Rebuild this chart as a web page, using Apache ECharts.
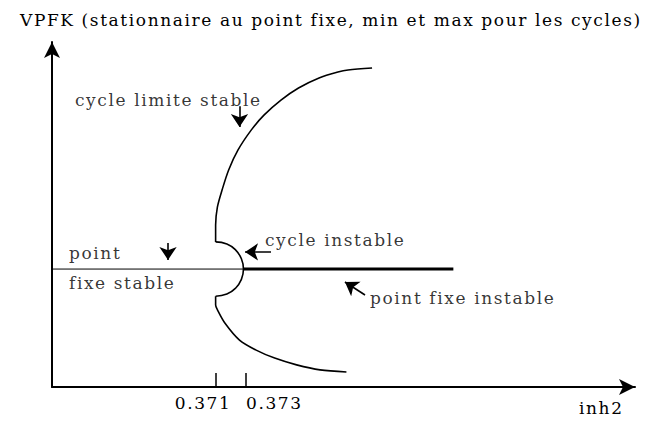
<!DOCTYPE html>
<html>
<head>
<meta charset="utf-8">
<script src="https://cdn.jsdelivr.net/npm/echarts@6/dist/echarts.min.js"></script>
<style>
  html, body { margin: 0; padding: 0; background: #fff; }
  #chart { width: 648px; height: 423px; }
  /* wide, airy lettering for every label */
  #chart svg text { letter-spacing: 1.6px; }
</style>
</head>
<body>
<div id="chart"></div>
<script>
// Bifurcation diagram of VPFK against inh2 (schematic)
const yTitle = 'VPFK (stationnaire au point fixe, min et max pour les cycles)';
const xTitle = 'inh2';

const tickValues = [0.371, 0.373];
const tickLabels = ['0.371', '0.373'];

// fixed point branch: stable part, then unstable part
const fixedStable = [[0.3598, 40], [0.3729, 40]];
const fixedUnstable = [[0.3729, 40], [0.3872, 40]];

// unstable cycle (min and max joined around the Hopf point)
const cycleUnstable = [
  [0.37097, 49.2], [0.37174, 48.5], [0.37233, 46.5], [0.37273, 43.5],
  [0.37287, 40.0],
  [0.37273, 36.5], [0.37233, 33.5], [0.37174, 31.5], [0.37097, 30.8]
];

// stable limit cycle: max branch and min branch
const cycleStableMax = [
  [0.37097, 49.2], [0.37097, 54.9], [0.37109, 61.0], [0.37141, 66.8],
  [0.37186, 73.6], [0.37250, 80.4], [0.37341, 87.2], [0.37427, 92.2],
  [0.37543, 97.3], [0.37663, 101.4], [0.37803, 104.8], [0.37932, 106.8],
  [0.38001, 107.5], [0.38165, 108.2]
];
const cycleStableMin = [
  [0.37097, 30.8], [0.37097, 27.8], [0.3711, 26.1], [0.3716, 21.7],
  [0.3726, 15.9], [0.3737, 12.6], [0.3750, 9.8], [0.3765, 7.5],
  [0.3781, 5.8], [0.3799, 5.1]
];

// annotation texts and their anchor points
const noteTexts = ['cycle limite stable', 'point', 'fixe stable', 'cycle instable', 'point fixe instable'];
const notePoints = [[0.36137, 97.3], [0.36096, 45.4], [0.36096, 35.3], [0.37434, 49.9], [0.38151, 30.2]];

// pointer arrows: [from, to]
const pointers = [
  [[0.3726, 95.2], [0.3726, 88.2]],
  [[0.36772, 48.8], [0.36772, 43.1]],
  [[0.37475, 45.8], [0.37298, 45.8]],
  [[0.38117, 31.2], [0.37980, 35.6]]
];

const font = 'DejaVu Serif';
const fsize = 17;
const ink = '#000';

const chart = echarts.init(document.getElementById('chart'), null, { renderer: 'svg' });

chart.setOption({
  animation: false,
  backgroundColor: '#fff',
  title: [
    {
      text: yTitle, left: 20, top: 11, padding: 0,
      textStyle: { fontFamily: font, fontSize: fsize, fontWeight: 'normal', color: ink }
    },
    {
      text: xTitle, left: 579, top: 399, padding: 0,
      textStyle: { fontFamily: font, fontSize: fsize, fontWeight: 'normal', color: ink }
    }
  ],
  grid: { left: 52, right: 13, top: 42, bottom: 36, containLabel: false, outerBoundsMode: 'none' },
  xAxis: {
    type: 'value',
    min: 0.3598,
    max: 0.3996,
    axisLine: {
      show: true, onZero: false,
      symbol: ['none', 'arrow'], symbolSize: [12, 16],
      lineStyle: { color: ink, width: 2 }
    },
    axisTick: {
      show: true, inside: true, length: 14,
      customValues: tickValues,
      lineStyle: { color: ink, width: 1.5 }
    },
    axisLabel: {
      show: true, margin: 7,
      customValues: tickValues,
      formatter: function (v) {
        const i = tickValues.indexOf(v);
        return '{t' + i + '|' + tickLabels[i] + '}';
      },
      rich: {
        t0: { fontFamily: font, fontSize: fsize, color: ink, padding: [0, 26, 0, 0] },
        t1: { fontFamily: font, fontSize: fsize, color: ink, padding: [0, 0, 0, 58] }
      }
    },
    splitLine: { show: false }
  },
  yAxis: {
    type: 'value',
    min: 0,
    max: 117,
    axisLine: {
      show: true, onZero: false,
      symbol: ['none', 'arrow'], symbolSize: [12, 16],
      lineStyle: { color: ink, width: 2 }
    },
    axisTick: { show: false },
    axisLabel: { show: false },
    splitLine: { show: false }
  },
  series: [
    {
      name: 'point fixe stable', type: 'line', data: fixedStable,
      showSymbol: false, lineStyle: { color: ink, width: 1 }
    },
    {
      name: 'point fixe instable', type: 'line', data: fixedUnstable,
      showSymbol: false, lineStyle: { color: ink, width: 3 }
    },
    {
      name: 'cycle instable', type: 'line', data: cycleUnstable, smooth: true,
      showSymbol: false, lineStyle: { color: ink, width: 1.6 }
    },
    {
      name: 'cycle limite stable (max)', type: 'line', data: cycleStableMax, smooth: 0.3,
      showSymbol: false, lineStyle: { color: ink, width: 1.6 }
    },
    {
      name: 'cycle limite stable (min)', type: 'line', data: cycleStableMin, smooth: 0.3,
      showSymbol: false, lineStyle: { color: ink, width: 1.6 }
    },
    {
      name: 'pointers', type: 'lines', coordinateSystem: 'cartesian2d',
      data: pointers.map(function (p) { return { coords: p }; }),
      symbol: ['none', 'arrow'], symbolSize: 13,
      lineStyle: { color: ink, width: 1.6, opacity: 1 }
    },
    {
      name: 'notes', type: 'scatter', symbolSize: 0,
      data: noteTexts.map(function (t, i) { return { name: t, value: notePoints[i] }; }),
      label: {
        show: true, position: 'right', distance: 0, formatter: '{b}',
        fontFamily: font, fontSize: fsize, color: ink
      }
    }
  ]
});
</script>
</body>
</html>
